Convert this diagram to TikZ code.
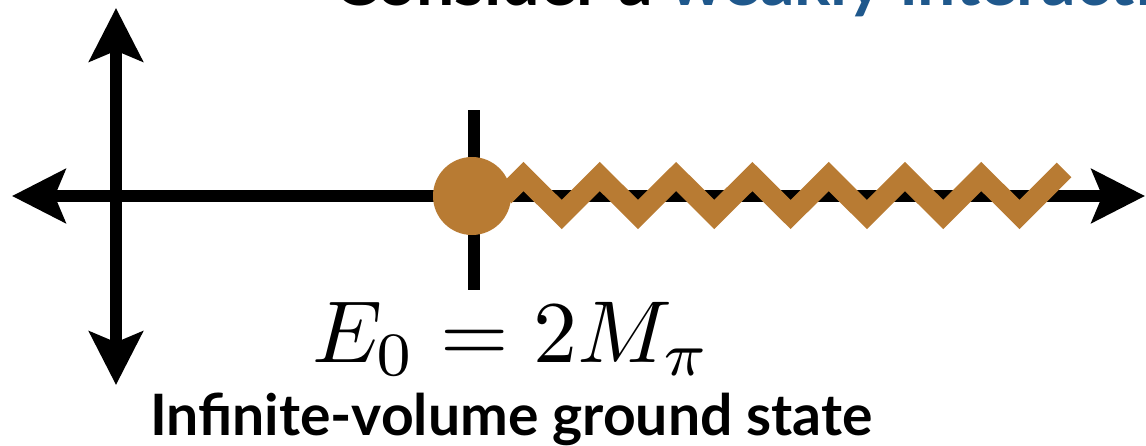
\documentclass[tikz,border=0pt]{standalone}
\usepackage{fontspec}
\setsansfont{Lato}
\usetikzlibrary{arrows.meta}
\definecolor{brown1}{RGB}{184,123,51}
\definecolor{blue1}{RGB}{31,88,140}
\begin{document}
\begin{tikzpicture}[x=0.75pt,y=-0.75pt,
  axis2/.style={line width=9pt,black,{Stealth[length=40pt,width=40pt,inset=8pt]}-{Stealth[length=40pt,width=40pt,inset=8pt]}},
  zig/.style={line width=15.5pt,brown1,line join=miter,miter limit=10,line cap=butt},
  tick/.style={line width=8.5pt,black},
  lbl/.style={inner sep=0pt,outer sep=0pt}]
\useasboundingbox (0,0) rectangle (1146,446);
\clip (0,0) rectangle (1146,446);
% top (cut) title
\node[lbl,anchor=base west,font=\sffamily\bfseries\fontsize{51}{60}\selectfont] (title) at (333,6)
  {Consider a \textcolor{blue1}{weakly interacting}};
% axes
\coordinate (vtop) at (116,8);
\coordinate (vbot) at (116,385);
\coordinate (hleft) at (12,196);
\coordinate (hright) at (1145,196);
\draw[axis2] (vbot) -- (vtop);
\draw[axis2] (hleft) -- (hright);
% threshold tick
\coordinate (ttop) at (474,110);
\coordinate (tbot) at (474,290);
\draw[tick] (ttop) -- (tbot);
% zigzag cut
\draw[zig] (504,196)
  \foreach \k in {0,...,6} {
    -- ({523.5+76.3*\k},176.5) -- ({561.7+76.3*\k},214.5)
  } -- (1064,170);
% threshold dot
\node[circle,fill=brown1,minimum size=58.5pt,inner sep=0pt] (dot) at (472,196) {};
% labels
\node[lbl,anchor=base west] (eq) at (312,362) {\scalebox{6.6}{$E_0 = 2M_\pi$}};
\node[lbl,anchor=base west,font=\sffamily\bfseries\fontsize{42.8}{50}\selectfont] (cap) at (150,435) {Infinite-volume ground state};
\end{tikzpicture}
\end{document}
